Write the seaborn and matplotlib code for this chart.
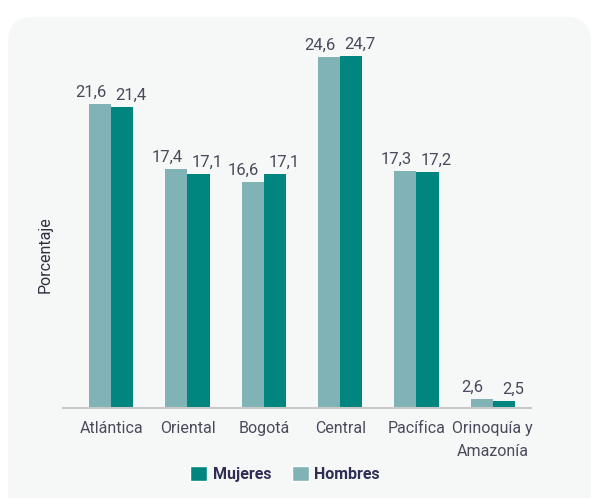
import numpy as np
import pandas as pd
import matplotlib.pyplot as plt
import seaborn as sns
from matplotlib.patches import FancyBboxPatch, Patch

regiones = ['Atlántica', 'Oriental', 'Bogotá', 'Central', 'Pacífica', 'Orinoquía y\nAmazonía']
hombres = [21.6, 17.4, 16.6, 24.6, 17.3, 2.6]
mujeres = [21.4, 17.1, 17.1, 24.7, 17.2, 2.5]
series = ['Hombres', 'Mujeres']
colores = {'Hombres': '#80b3b5', 'Mujeres': '#00857f'}

df = pd.DataFrame({
    'region': regiones * 2,
    'sexo': ['Hombres'] * len(regiones) + ['Mujeres'] * len(regiones),
    'valor': hombres + mujeres,
})

sns.set_style('white')
plt.rcParams['font.family'] = ['Roboto', 'DejaVu Sans']
texto = '#4b4a5c'

fig = plt.figure(figsize=(5.92, 4.98), dpi=100)
fig.patch.set_facecolor('white')

# light rounded panel behind the chart
bg = FancyBboxPatch((8 / 592, -0.1), 583 / 592, 1.066,
                    boxstyle='round,pad=0,rounding_size=0.042',
                    mutation_aspect=1.19, transform=fig.transFigure,
                    facecolor='#f6f7f7', edgecolor='none', zorder=-10)
fig.add_artist(bg)

ax = fig.add_axes([63 / 592, (498 - 407.5) / 498, 468 / 592, 372 / 498])
ax.set_facecolor('none')

sns.barplot(data=df, x='region', y='valor', hue='sexo', order=regiones,
            hue_order=series, palette=colores, width=0.58, saturation=1,
            linewidth=0, legend=False, ax=ax)

ax.set_xlim(-0.5 - 10 / 76.5, 5.5)
ax.set_ylim(2.08, 26)

for s in ['top', 'right', 'left']:
    ax.spines[s].set_visible(False)
ax.spines['bottom'].set_color('#c8c8c8')
ax.spines['bottom'].set_linewidth(1.5)

ax.set_yticks([])
ax.set_xlabel('')
ax.set_ylabel('')
ax.set_xticks([-0.5 - 10 / 76.5, 0.5, 1.5, 2.5, 3.5, 4.5, 5.5], minor=True)
ax.tick_params(axis='x', which='minor', length=4, width=1.3, color='#c8c8c8')
ax.tick_params(axis='x', which='major', length=0, pad=10, labelsize=11.5, labelcolor=texto)
for lbl in ax.get_xticklabels():
    lbl.set_linespacing(1.6)

for cont, signo in zip(ax.containers, [-1, 1]):
    for bar in cont:
        h = bar.get_height()
        ax.annotate(f'{h:.1f}'.replace('.', ','),
                    xy=(bar.get_x() + bar.get_width() / 2, h),
                    xytext=(signo * 6.5, 3), textcoords='offset points',
                    ha='center', va='bottom', fontsize=12, color=texto)

fig.text(45 / 592, 1 - 255 / 498, 'Porcentaje', rotation=90, ha='center',
         va='center', fontsize=11.5, color='#2f2f40')

handles = [Patch(facecolor=colores['Mujeres']), Patch(facecolor=colores['Hombres'])]
fig.legend(handles, ['Mujeres', 'Hombres'], loc='center', ncol=2,
           bbox_to_anchor=(285 / 592, 1 - 474 / 498), frameon=False,
           handlelength=1.05, handleheight=1.05, handletextpad=0.35,
           columnspacing=1.3, labelcolor='#2e2f55',
           prop={'weight': 'bold', 'size': 11.5})

fig.savefig('out.png', dpi=100)
